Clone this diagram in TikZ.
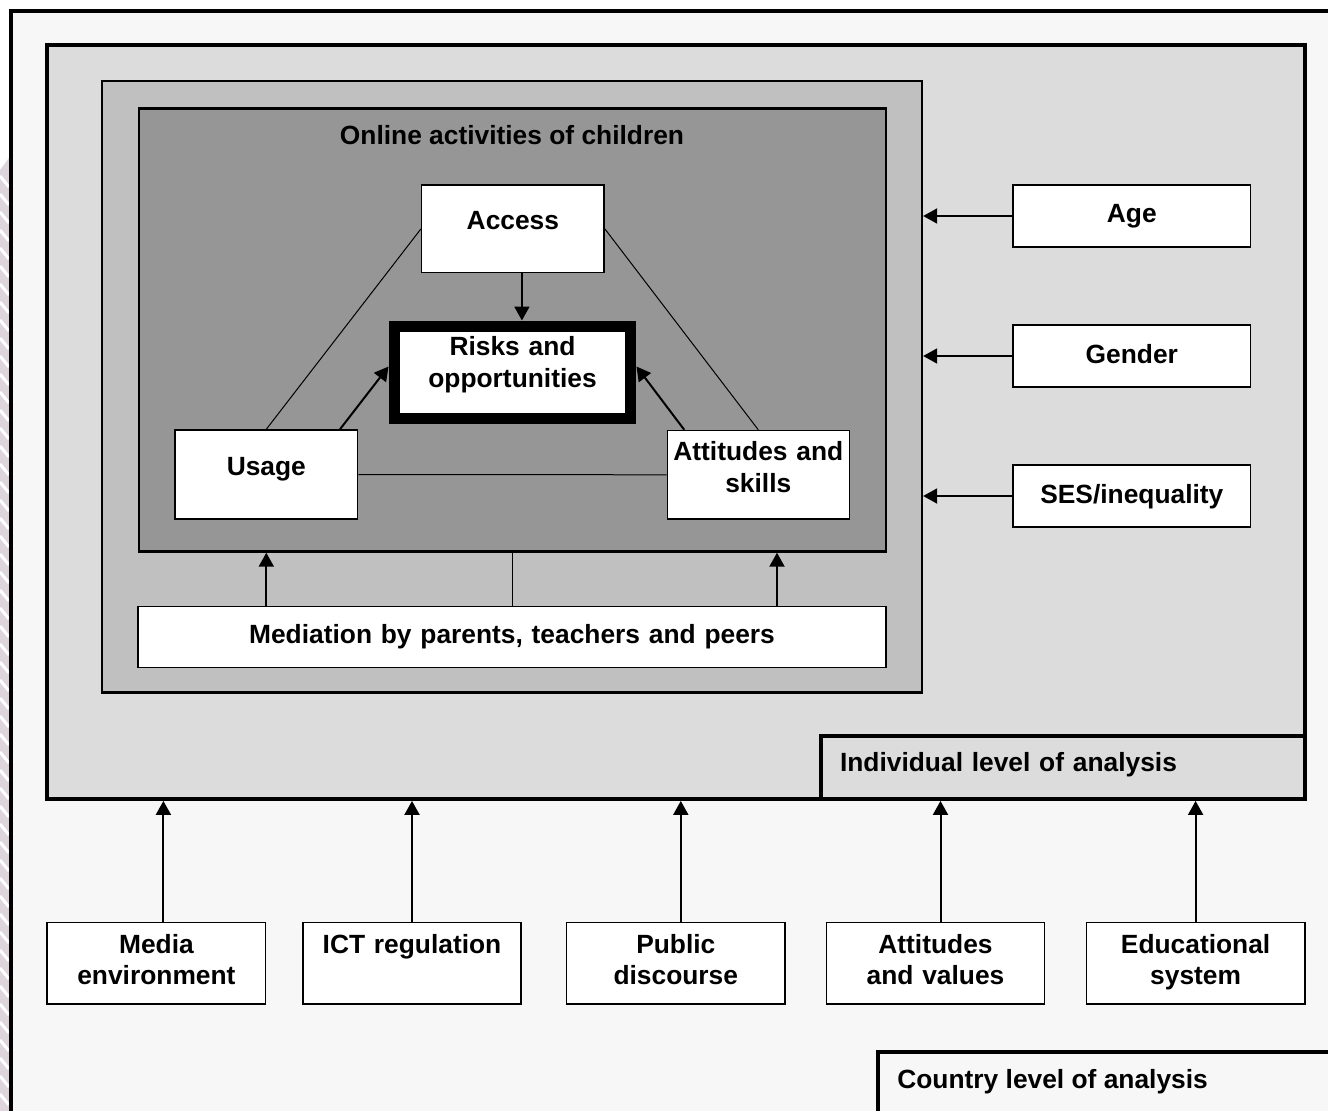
\documentclass[tikz,border=0pt]{standalone}
\usepackage{fontspec}
\setmainfont{Liberation Sans}
\usetikzlibrary{arrows.meta}
\definecolor{pageGray}{RGB}{247,247,247}
\definecolor{indivGray}{RGB}{220,220,220}
\definecolor{contextGray}{RGB}{192,192,192}
\definecolor{onlineGray}{RGB}{150,150,150}
\definecolor{stripPink}{RGB}{222,213,220}
\begin{document}
\begin{tikzpicture}
[x=0.02cm,y=-0.02cm,
  font=\fontsize{15}{18.2}\selectfont\bfseries,
  frameDecorate/.style={draw,rectangle,inner sep=0pt},
  boxDecorate/.style={draw,fill=white,line width=0.03cm,inner sep=0pt,align=center},
  boxSize/.style n args={3}{minimum width=#1,text width=#1,minimum height=#2,text depth=#3},
  arrowDecorate/.style={-{Triangle[length=0.28cm,width=0.3cm]},line width=0.04cm},
  lineDecorate/.style={-,line width=0.02cm}]
\clip (0,0) rectangle (1328,1111);
%% page, strip and outer frame
\fill[white] (0,0) rectangle (1328,1111);
\fill[stripPink] (0,170) -- (9,158) -- (9,1111) -- (0,1111) -- cycle;
\foreach \y in {176,194,...,1104}
  \draw[white,line width=0.06cm] (0,\y) -- (9,\y+11);
\draw[line width=0.08cm,fill=pageGray] (11,11) rectangle (1400,1200);
%% levels and frames
\node (indiv) [frameDecorate,fill=indivGray,line width=0.08cm,
  minimum width=25.16cm,minimum height=15.08cm] at (676,422) {};
\node (context) [frameDecorate,fill=contextGray,line width=0.05cm,
  minimum width=16.4cm,minimum height=12.24cm] at (512,386.7) {};
\node (online) [frameDecorate,fill=onlineGray,line width=0.046cm,
  minimum width=14.94cm,minimum height=8.86cm] at (512.5,330.1) {};
\node (onlineTitle) [anchor=base] at (512,144.5) {Online activities of children};
\node (indivLabel) [frameDecorate,fill=indivGray,line width=0.08cm,align=left,
  minimum width=9.68cm,text width=8.92cm,inner xsep=0.38cm,minimum height=1.25cm,
  text depth=0.22cm] at (1063,767.4) {Individual level of analysis};
\draw[line width=0.08cm,fill=pageGray] (878,1051.7) rectangle (1400,1200);
\node (countryLabel) [anchor=base west,inner sep=0pt] at (897,1088) {Country level of analysis};
%% online activities
\node (access) [boxDecorate,boxSize={3.65cm}{1.75cm}{0.34cm}] at (512.9,228.9) {Access};
\node (risks) [boxDecorate,line width=0.22cm,boxSize={4.74cm}{1.86cm}{1.06cm}]
  at (512.5,372.5) {Risks and\\opportunities};
\node (usage) [boxDecorate,boxSize={3.65cm}{1.78cm}{0.34cm}] at (266.3,474.5) {Usage};
\node (attitudes) [boxDecorate,boxSize={3.64cm}{1.77cm}{0.95cm}]
  at (758.3,474.8) {Attitudes and\\skills};
\node (mediation) [boxDecorate,boxSize={14.96cm}{1.22cm}{0.12cm}]
  at (512,637.2) {Mediation by parents, teachers and peers};
\draw[lineDecorate] (access.west) -- (usage.north);
\draw[lineDecorate] (access.east) -- (attitudes.north);
\draw[lineDecorate] (usage.east) -- (attitudes.west);
\draw[arrowDecorate] ([xshift=0.18cm]access.south) -- ([xshift=0.18cm]access.south |- risks.north);
\draw[arrowDecorate] ([xshift=-0.366cm]usage.north east) -- ([yshift=0.12cm]risks.west);
\draw[arrowDecorate] ([xshift=0.354cm]attitudes.north west) -- ([yshift=0.12cm]risks.east);
\draw[arrowDecorate] (usage.south |- mediation.north) -- (usage.south |- online.south);
\draw[arrowDecorate] ([xshift=0.374cm]attitudes.south |- mediation.north)
  -- ([xshift=0.374cm]attitudes.south |- online.south);
\draw[lineDecorate] (mediation.north) -- (mediation.north |- online.south);
%% individual factors
\foreach \nodename/\y/\text in {age/216/Age, gender/356/Gender, ses/496/SES\slash inequality}
{
  \node (\nodename) [boxDecorate,boxSize={4.75cm}{1.25cm}{0.1cm}] at (1131.8,\y) {\text};
  \draw[arrowDecorate] (\nodename.west) -- (\nodename.west -| context.east);
}
%% country factors
\foreach \nodename/\x/\shift/\text in {
  media/156.4/0.14/{Media\\environment}, ict/412/0/{ICT regulation},
  public/675.8/0.1/{Public\\discourse}, values/935.5/0.1/{Attitudes\\and values},
  educ/1195.6/0/{Educational\\system}}
{
  \node (\nodename) [boxDecorate,boxSize={4.37cm}{1.63cm}{0.79cm}] at (\x,963.2) {\text};
  \draw[arrowDecorate] ([xshift=\shift cm]\nodename.north) -- ([xshift=\shift cm]\nodename.north |- indiv.south);
}
\end{tikzpicture}
\end{document}
